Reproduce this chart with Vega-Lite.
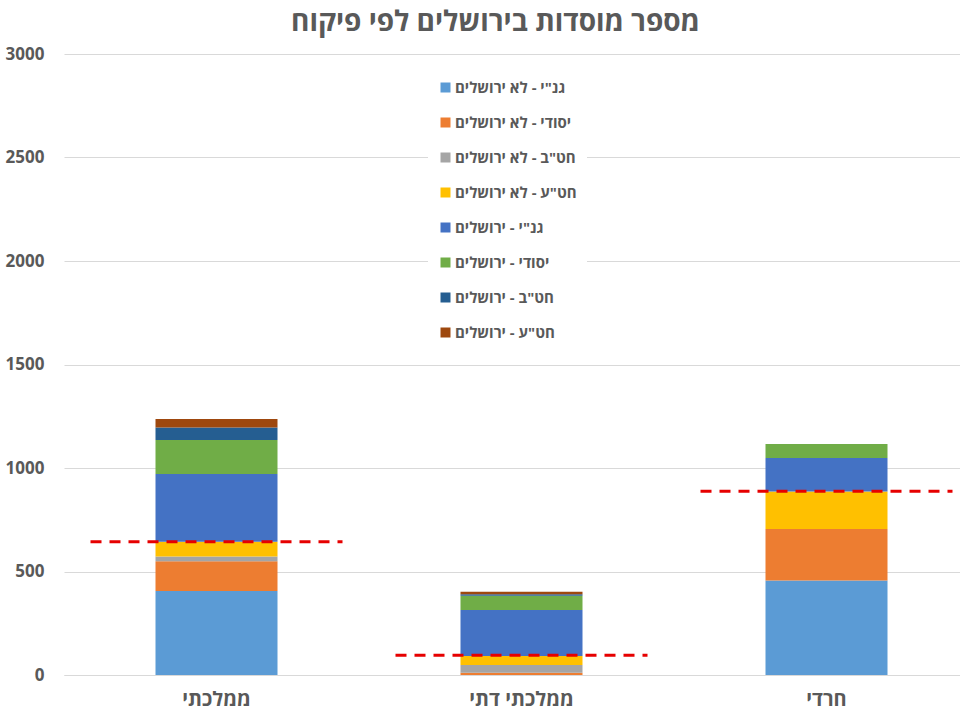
{
  "$schema": "https://vega.github.io/schema/vega-lite/v6.json",
  "autosize": "none",
  "width": 915,
  "height": 621,
  "padding": {"left": 64, "top": 54, "right": 0, "bottom": 40},
  "background": "white",
  "title": {
    "text": "מספר מוסדות בירושלים לפי פיקוח",
    "font": "Open Sans",
    "fontSize": 28,
    "fontWeight": "bold",
    "color": "#595959",
    "anchor": "middle",
    "dx": -26,
    "offset": 8
  },
  "config": {
    "view": {"stroke": null},
    "font": "Open Sans",
    "axis": {
      "labelFont": "Open Sans",
      "labelColor": "#595959",
      "labelFontWeight": "bold",
      "gridColor": "#D9D9D9",
      "domainColor": "#D9D9D9",
      "ticks": false,
      "title": null
    }
  },
  "datasets": {
    "counts": [
      {"pikuach": "ממלכתי", "series": "גנ\"י - לא ירושלים", "n": 406},
      {"pikuach": "ממלכתי", "series": "יסודי - לא ירושלים", "n": 143},
      {"pikuach": "ממלכתי", "series": "חט\"ב - לא ירושלים", "n": 23},
      {"pikuach": "ממלכתי", "series": "חט\"ע - לא ירושלים", "n": 72},
      {"pikuach": "ממלכתי", "series": "גנ\"י - ירושלים", "n": 327},
      {"pikuach": "ממלכתי", "series": "יסודי - ירושלים", "n": 164},
      {"pikuach": "ממלכתי", "series": "חט\"ב - ירושלים", "n": 61},
      {"pikuach": "ממלכתי", "series": "חט\"ע - ירושלים", "n": 41},
      {"pikuach": "ממלכתי דתי", "series": "גנ\"י - לא ירושלים", "n": 0},
      {"pikuach": "ממלכתי דתי", "series": "יסודי - לא ירושלים", "n": 11},
      {"pikuach": "ממלכתי דתי", "series": "חט\"ב - לא ירושלים", "n": 37},
      {"pikuach": "ממלכתי דתי", "series": "חט\"ע - לא ירושלים", "n": 44},
      {"pikuach": "ממלכתי דתי", "series": "גנ\"י - ירושלים", "n": 222},
      {"pikuach": "ממלכתי דתי", "series": "יסודי - ירושלים", "n": 69},
      {"pikuach": "ממלכתי דתי", "series": "חט\"ב - ירושלים", "n": 7},
      {"pikuach": "ממלכתי דתי", "series": "חט\"ע - ירושלים", "n": 12},
      {"pikuach": "חרדי", "series": "גנ\"י - לא ירושלים", "n": 456},
      {"pikuach": "חרדי", "series": "יסודי - לא ירושלים", "n": 249},
      {"pikuach": "חרדי", "series": "חט\"ב - לא ירושלים", "n": 0},
      {"pikuach": "חרדי", "series": "חט\"ע - לא ירושלים", "n": 181},
      {"pikuach": "חרדי", "series": "גנ\"י - ירושלים", "n": 162},
      {"pikuach": "חרדי", "series": "יסודי - ירושלים", "n": 68},
      {"pikuach": "חרדי", "series": "חט\"ב - ירושלים", "n": 0},
      {"pikuach": "חרדי", "series": "חט\"ע - ירושלים", "n": 0}
    ],
    "lines": [
      {"pikuach": "ממלכתי", "level": 644},
      {"pikuach": "ממלכתי דתי", "level": 95},
      {"pikuach": "חרדי", "level": 888}
    ]
  },
  "layer": [
    {
      "data": {"name": "counts"},
      "transform": [
        {
          "calculate": "indexof(['גנ\"י - לא ירושלים','יסודי - לא ירושלים','חט\"ב - לא ירושלים','חט\"ע - לא ירושלים','גנ\"י - ירושלים','יסודי - ירושלים','חט\"ב - ירושלים','חט\"ע - ירושלים'], datum.series)",
          "as": "k"
        }
      ],
      "mark": {"type": "bar"},
      "encoding": {
        "x": {
          "field": "pikuach",
          "type": "nominal",
          "sort": ["ממלכתי", "ממלכתי דתי", "חרדי"],
          "scale": {"paddingInner": 0.6, "paddingOuter": 0.3},
          "axis": {"labelAngle": 0, "labelFontSize": 20, "labelPadding": 14, "grid": false}
        },
        "y": {
          "field": "n",
          "type": "quantitative",
          "stack": "zero",
          "scale": {"domain": [0, 3000]},
          "axis": {
            "values": [0, 500, 1000, 1500, 2000, 2500, 3000],
            "labelFontSize": 17,
            "labelPadding": 20,
            "domain": false,
            "format": "d"
          }
        },
        "color": {
          "field": "series",
          "type": "nominal",
          "scale": {
            "domain": ["גנ\"י - לא ירושלים", "יסודי - לא ירושלים", "חט\"ב - לא ירושלים", "חט\"ע - לא ירושלים", "גנ\"י - ירושלים", "יסודי - ירושלים", "חט\"ב - ירושלים", "חט\"ע - ירושלים"],
            "range": ["#5B9BD5", "#ED7D31", "#A5A5A5", "#FFC000", "#4472C4", "#70AD47", "#255E91", "#9E480E"]
          },
          "legend": {
            "title": null,
            "orient": "none",
            "legendX": 364,
            "legendY": 16,
            "symbolType": "square",
            "symbolSize": 100,
            "symbolStrokeWidth": 0,
            "labelFont": "Open Sans",
            "labelFontSize": 15,
            "labelFontWeight": "bold",
            "labelColor": "#595959",
            "labelOffset": 2,
            "rowPadding": 19,
            "fillColor": "white",
            "padding": 10
          }
        },
        "order": {"field": "k", "type": "quantitative"}
      }
    },
    {
      "data": {"name": "lines"},
      "mark": {
        "type": "rule",
        "color": "#E60000",
        "strokeWidth": 3,
        "strokeDash": [11, 8],
        "xOffset": -126,
        "x2Offset": 126
      },
      "encoding": {
        "x": {"field": "pikuach", "type": "nominal", "sort": ["ממלכתי", "ממלכתי דתי", "חרדי"], "bandPosition": 0.5},
        "x2": {"field": "pikuach", "bandPosition": 0.5},
        "y": {"field": "level", "type": "quantitative"}
      }
    }
  ]
}
